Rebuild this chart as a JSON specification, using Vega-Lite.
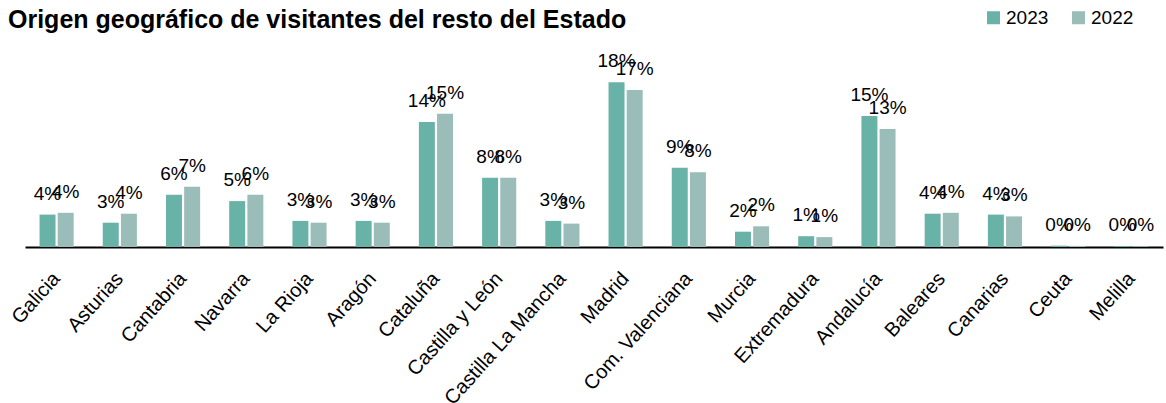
{
  "$schema": "https://vega.github.io/schema/vega-lite/v6.json",
  "autosize": "none",
  "width": 1138,
  "height": 180,
  "padding": {"left": 25, "top": 67, "right": 3, "bottom": 156},
  "background": "white",
  "config": {"font": "Liberation Sans", "view": {"stroke": null}},
  "title": {
    "text": "Origen geográfico de visitantes del resto del Estado",
    "anchor": "start",
    "frame": "group",
    "orient": "top",
    "offset": 0,
    "dx": -17,
    "dy": 45,
    "baseline": "alphabetic",
    "fontSize": 25,
    "fontWeight": "bold",
    "color": "#000000"
  },
  "data": {
    "values": [
      {"region": "Galicia", "year": "2023", "value": 0.036},
      {"region": "Galicia", "year": "2022", "value": 0.038},
      {"region": "Asturias", "year": "2023", "value": 0.027},
      {"region": "Asturias", "year": "2022", "value": 0.037},
      {"region": "Cantabria", "year": "2023", "value": 0.058},
      {"region": "Cantabria", "year": "2022", "value": 0.067},
      {"region": "Navarra", "year": "2023", "value": 0.051},
      {"region": "Navarra", "year": "2022", "value": 0.058},
      {"region": "La Rioja", "year": "2023", "value": 0.029},
      {"region": "La Rioja", "year": "2022", "value": 0.027},
      {"region": "Aragón", "year": "2023", "value": 0.029},
      {"region": "Aragón", "year": "2022", "value": 0.027},
      {"region": "Cataluña", "year": "2023", "value": 0.139},
      {"region": "Cataluña", "year": "2022", "value": 0.148},
      {"region": "Castilla y León", "year": "2023", "value": 0.077},
      {"region": "Castilla y León", "year": "2022", "value": 0.077},
      {"region": "Castilla La Mancha", "year": "2023", "value": 0.029},
      {"region": "Castilla La Mancha", "year": "2022", "value": 0.026},
      {"region": "Madrid", "year": "2023", "value": 0.183},
      {"region": "Madrid", "year": "2022", "value": 0.1745},
      {"region": "Com. Valenciana", "year": "2023", "value": 0.088},
      {"region": "Com. Valenciana", "year": "2022", "value": 0.083},
      {"region": "Murcia", "year": "2023", "value": 0.017},
      {"region": "Murcia", "year": "2022", "value": 0.023},
      {"region": "Extremadura", "year": "2023", "value": 0.012},
      {"region": "Extremadura", "year": "2022", "value": 0.011},
      {"region": "Andalucía", "year": "2023", "value": 0.1455},
      {"region": "Andalucía", "year": "2022", "value": 0.131},
      {"region": "Baleares", "year": "2023", "value": 0.037},
      {"region": "Baleares", "year": "2022", "value": 0.038},
      {"region": "Canarias", "year": "2023", "value": 0.036},
      {"region": "Canarias", "year": "2022", "value": 0.034},
      {"region": "Ceuta", "year": "2023", "value": 0.0015},
      {"region": "Ceuta", "year": "2022", "value": 0.0012},
      {"region": "Melilla", "year": "2023", "value": 0.001},
      {"region": "Melilla", "year": "2022", "value": 0.0008}
    ]
  },
  "encoding": {
    "x": {
      "field": "region",
      "type": "nominal",
      "sort": null,
      "scale": {"paddingInner": 0.46, "paddingOuter": 0.23},
      "axis": {
        "title": null,
        "labelAngle": -48,
        "labelFontSize": 20,
        "labelColor": "#000000",
        "labelPadding": 28,
        "labelLimit": 0,
        "ticks": false,
        "domainColor": "#000000",
        "domainWidth": 2
      }
    },
    "xOffset": {
      "field": "year",
      "type": "nominal",
      "sort": ["2023", "2022"],
      "scale": {"paddingInner": 0.12, "paddingOuter": 0}
    },
    "y": {
      "field": "value",
      "type": "quantitative",
      "scale": {"domain": [0, 0.2], "nice": false},
      "axis": null
    }
  },
  "layer": [
    {
      "mark": {"type": "bar", "clip": false},
      "encoding": {
        "color": {
          "field": "year",
          "type": "nominal",
          "scale": {"domain": ["2023", "2022"], "range": ["#68b2a8", "#9bbdb9"]},
          "legend": {
            "title": null,
            "orient": "none",
            "legendX": 959,
            "legendY": -59,
            "direction": "horizontal",
            "symbolType": "square",
            "symbolSize": 169,
            "symbolStrokeWidth": 0,
            "labelFontSize": 19,
            "labelColor": "#000000",
            "labelOffset": 3,
            "columnPadding": 20,
            "padding": 0
          }
        }
      }
    },
    {
      "mark": {"type": "text", "baseline": "alphabetic", "dy": -15, "fontSize": 19, "color": "#000000", "clip": false},
      "encoding": {
        "text": {"field": "value", "type": "quantitative", "format": ".0%"}
      }
    }
  ]
}
